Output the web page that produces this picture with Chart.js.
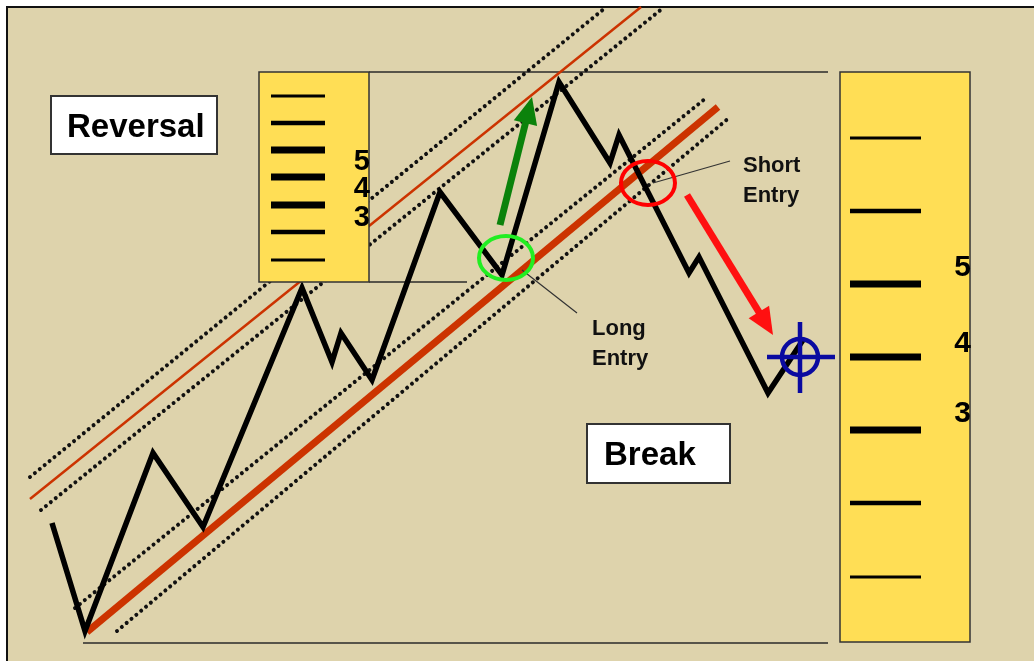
<!DOCTYPE html>
<html>
<head>
<meta charset="utf-8">
<script src="https://cdn.jsdelivr.net/npm/chart.js@4.4.0/dist/chart.umd.min.js"></script>
<style>
  html, body { margin: 0; padding: 0; background: #fff; }
  #wrap { position: relative; width: 1034px; height: 661px; }
</style>
</head>
<body>
<div id="wrap"><canvas id="chart"></canvas></div>
<script>
// price swing (x = bar, y = level measured downwards)
const priceX = [52, 85, 153, 203, 302, 332, 341, 372, 440, 502, 559, 610, 619, 689, 699, 768, 803];
const priceY = [523, 631, 453, 527, 288, 362, 333, 380, 192, 275, 82, 163, 135, 273, 257, 393, 340];

// channel lines, two ends each
const upperLineX = [30, 641],  upperLineY = [499, 7];
const upperOuterX = [30, 605], upperOuterY = [477, 8];
const upperInnerX = [41, 663], upperInnerY = [510, 8];
const lowerLineX = [87, 718],  lowerLineY = [632, 107];
const lowerInnerX = [75, 706], lowerInnerY = [608, 98];
const lowerOuterX = [117, 730], lowerOuterY = [631, 117];

// level lines: y, from x, to x
const levelY = [72, 282, 643];
const levelFrom = [369, 369, 83];
const levelTo = [828, 467, 828];

// entries, arrows, target
const longEntry = [506, 258];
const shortEntry = [648, 183];
const longArrow = [500, 225, 532, 97];
const shortArrow = [687, 195, 773, 335];
const target = [800, 357];

// ruler ticks and labels
const rulerLabels = ['5', '4', '3'];
const leftTicks = [96, 123, 150, 177, 205, 232, 260];
const leftLabelY = [170, 197, 226];
const rightTicks = [138, 211, 284, 357, 430, 503, 577];
const rightLabelY = [276, 352, 422];
const tickWeight = [3, 4.5, 7, 7, 7, 4.5, 3];

const BG = '#DED3AC';
const YELLOW = '#FFDE55';
const ORANGE = '#CC3300';

function pts(xs, ys) {
  return xs.map((x, i) => ({ x: x, y: ys[i] }));
}

function line(xs, ys, color, width, dotted) {
  return {
    data: pts(xs, ys),
    showLine: true,
    borderColor: color,
    borderWidth: width,
    borderDash: dotted ? [0.01, 6.3] : [],
    borderCapStyle: dotted ? 'round' : 'butt',
    borderJoinStyle: 'miter',
    pointRadius: 0,
    tension: 0,
  };
}

const diagram = {
  id: 'diagram',
  beforeDraw(chart) {
    const ctx = chart.ctx;
    const w = chart.width, h = chart.height;
    ctx.save();
    ctx.fillStyle = '#fff';
    ctx.fillRect(0, 0, w, h);
    ctx.fillStyle = BG;
    ctx.fillRect(7, 7, w - 7, h - 7);
    ctx.strokeStyle = '#111';
    ctx.lineWidth = 2;
    ctx.beginPath();
    ctx.moveTo(7, h);
    ctx.lineTo(7, 7);
    ctx.lineTo(w, 7);
    ctx.stroke();
    ctx.restore();
  },
  beforeDatasetsDraw(chart) {
    const ctx = chart.ctx, sx = chart.scales.x, sy = chart.scales.y;
    ctx.save();
    ctx.strokeStyle = '#2a2a2a';
    ctx.lineWidth = 1.5;
    levelY.forEach((y, i) => {
      ctx.beginPath();
      ctx.moveTo(sx.getPixelForValue(levelFrom[i]), sy.getPixelForValue(y));
      ctx.lineTo(sx.getPixelForValue(levelTo[i]), sy.getPixelForValue(y));
      ctx.stroke();
    });
    ctx.restore();
  },
  afterDatasetsDraw(chart) {
    const ctx = chart.ctx, sx = chart.scales.x, sy = chart.scales.y;
    const X = v => sx.getPixelForValue(v);
    const Y = v => sy.getPixelForValue(v);
    ctx.save();

    // rulers
    function ruler(x0, y0, x1, y1, ticks, tx0, tx1, labelY, labelFont) {
      ctx.fillStyle = YELLOW;
      ctx.fillRect(X(x0), Y(y0), X(x1) - X(x0), Y(y1) - Y(y0));
      ctx.strokeStyle = '#333';
      ctx.lineWidth = 1.5;
      ctx.strokeRect(X(x0), Y(y0), X(x1) - X(x0), Y(y1) - Y(y0));
      ctx.strokeStyle = '#000';
      ticks.forEach((t, i) => {
        ctx.lineWidth = tickWeight[i];
        ctx.beginPath();
        ctx.moveTo(X(tx0), Y(t));
        ctx.lineTo(X(tx1), Y(t));
        ctx.stroke();
      });
      ctx.fillStyle = '#000';
      ctx.font = labelFont;
      ctx.textAlign = 'right';
      ctx.textBaseline = 'alphabetic';
      rulerLabels.forEach((l, i) => ctx.fillText(l, X(x1) + 1, Y(labelY[i])));
    }
    ruler(259, 72, 369, 282, leftTicks, 271, 325, leftLabelY, 'bold 29px "Liberation Sans", Arial, sans-serif');
    ruler(840, 72, 970, 642, rightTicks, 850, 921, rightLabelY, 'bold 30px "Liberation Sans", Arial, sans-serif');

    // title boxes
    function labelBox(x, y, w, h, text, tx, ty) {
      ctx.fillStyle = '#fff';
      ctx.fillRect(X(x), Y(y), w, h);
      ctx.strokeStyle = '#333';
      ctx.lineWidth = 2;
      ctx.strokeRect(X(x), Y(y), w, h);
      ctx.fillStyle = '#000';
      ctx.font = 'bold 33px "Liberation Sans", Arial, sans-serif';
      ctx.textAlign = 'left';
      ctx.textBaseline = 'alphabetic';
      ctx.fillText(text, X(tx), Y(ty));
    }
    labelBox(51, 96, 166, 58, 'Reversal', 67, 137);
    labelBox(587, 424, 143, 59, 'Break', 604, 465);

    // pointer lines and notes
    ctx.strokeStyle = '#333';
    ctx.lineWidth = 1.2;
    ctx.beginPath();
    ctx.moveTo(X(522), Y(270)); ctx.lineTo(X(577), Y(313));
    ctx.moveTo(X(730), Y(161)); ctx.lineTo(X(653), Y(183));
    ctx.stroke();

    ctx.fillStyle = '#111';
    ctx.font = 'bold 22px "Liberation Sans", Arial, sans-serif';
    ctx.textAlign = 'left';
    ctx.fillText('Long', X(592), Y(335));
    ctx.fillText('Entry', X(592), Y(365));
    ctx.fillText('Short', X(743), Y(172));
    ctx.fillText('Entry', X(743), Y(202));

    // entry rings
    function ring(c, color) {
      ctx.strokeStyle = color;
      ctx.lineWidth = 4;
      ctx.beginPath();
      ctx.ellipse(X(c[0]), Y(c[1]), 27, 22, 0, 0, Math.PI * 2);
      ctx.stroke();
    }
    ring(longEntry, '#22EE22');
    ring(shortEntry, '#FF0000');

    // arrows
    function arrow(a, color) {
      const x0 = X(a[0]), y0 = Y(a[1]), x1 = X(a[2]), y1 = Y(a[3]);
      const ang = Math.atan2(y1 - y0, x1 - x0);
      const hl = 27, hw = 12;
      const bx = x1 - hl * Math.cos(ang), by = y1 - hl * Math.sin(ang);
      ctx.strokeStyle = color;
      ctx.fillStyle = color;
      ctx.lineWidth = 7;
      ctx.lineCap = 'butt';
      ctx.beginPath();
      ctx.moveTo(x0, y0);
      ctx.lineTo(bx + 2 * Math.cos(ang), by + 2 * Math.sin(ang));
      ctx.stroke();
      ctx.beginPath();
      ctx.moveTo(x1, y1);
      ctx.lineTo(bx + hw * Math.sin(ang), by - hw * Math.cos(ang));
      ctx.lineTo(bx - hw * Math.sin(ang), by + hw * Math.cos(ang));
      ctx.closePath();
      ctx.fill();
    }
    arrow(longArrow, '#0B820B');
    arrow(shortArrow, '#FF1010');

    // target crosshair
    const cx = X(target[0]), cy = Y(target[1]);
    ctx.strokeStyle = '#0A0AA0';
    ctx.lineWidth = 4.5;
    ctx.beginPath();
    ctx.arc(cx, cy, 18, 0, Math.PI * 2);
    ctx.stroke();
    ctx.beginPath();
    ctx.moveTo(cx - 33, cy); ctx.lineTo(cx + 35, cy);
    ctx.moveTo(cx, cy - 35); ctx.lineTo(cx, cy + 36);
    ctx.stroke();

    ctx.restore();
  }
};

new Chart(document.getElementById('chart'), {
  type: 'scatter',
  data: {
    datasets: [
      line(priceX, priceY, '#000', 5.5, false),
      line(upperLineX, upperLineY, ORANGE, 2.5, false),
      line(lowerLineX, lowerLineY, ORANGE, 7, false),
      line(upperOuterX, upperOuterY, '#111', 4, true),
      line(upperInnerX, upperInnerY, '#111', 4, true),
      line(lowerInnerX, lowerInnerY, '#111', 4, true),
      line(lowerOuterX, lowerOuterY, '#111', 4, true),
    ],
  },
  options: {
    responsive: true,
    maintainAspectRatio: false,
    animation: false,
    events: [],
    layout: { padding: 0 },
    plugins: { legend: { display: false }, tooltip: { enabled: false } },
    scales: {
      x: { type: 'linear', min: 0, max: 1034, display: false },
      y: { type: 'linear', min: 0, max: 661, reverse: true, display: false },
    },
  },
  plugins: [diagram],
});
</script>
</body>
</html>
